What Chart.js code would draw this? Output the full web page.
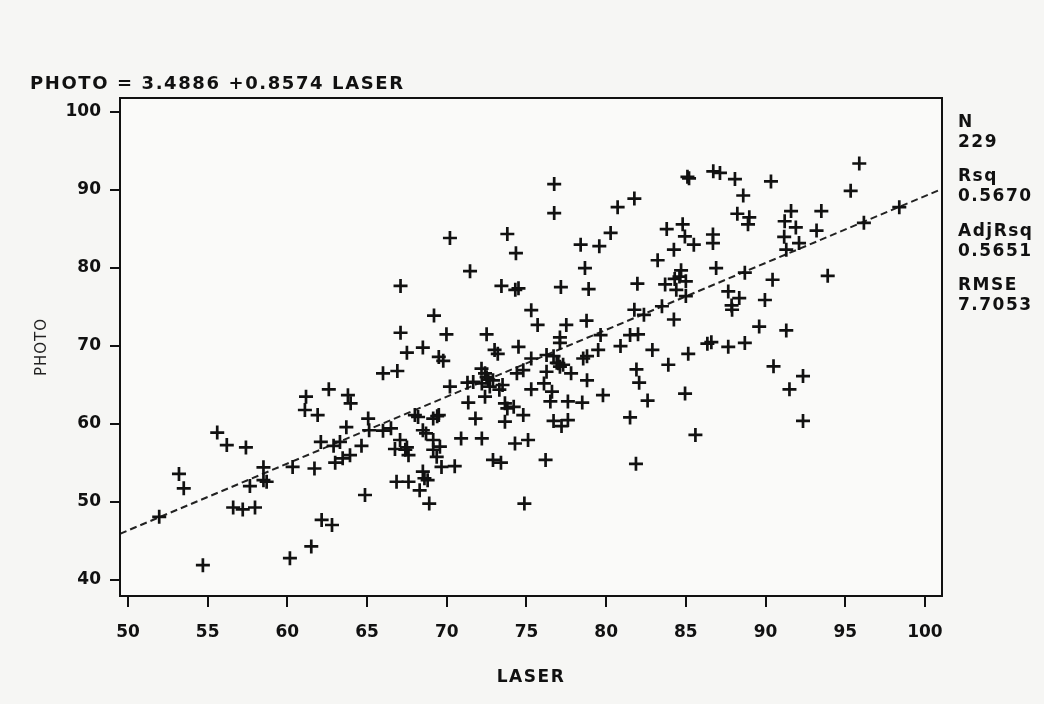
<!DOCTYPE html>
<html>
<head>
<meta charset="utf-8">
<script src="https://cdn.jsdelivr.net/npm/chart.js@4/dist/chart.umd.min.js"></script>
<style>
  html, body { margin: 0; padding: 0; background: #f6f6f4; }
  #wrap { width: 1044px; height: 704px; position: relative; }
  canvas { display: block; }
</style>
</head>
<body>
<div id="wrap"><canvas id="c" width="1044" height="704"></canvas></div>
<script>
// ---- data ----
const laser = [
  76.74,76.74,80.72,81.77,70.2,73.8,74.34,78.4,79.57,80.28,
  83.23,71.46,78.67,67.1,73.43,74.3,74.5,77.16,78.9,81.96,
  69.2,75.3,75.7,77.5,78.77,81.77,82.37,
  67.1,69.98,72.5,77.1,79.65,81.5,82.0,
  95.88,95.34,98.39,96.17,85.1,85.2,86.72,87.14,88.08,90.34,88.6,88.23,88.98,88.9,91.6,93.5,91.2,91.9,93.2,91.17,92.1,91.3,
  83.8,84.8,84.94,85.5,86.7,86.7,84.25,84.7,84.3,83.7,84.4,85.0,85.0,83.5,86.9,88.7,90.44,93.9,87.66,88.35,87.87,87.9,89.96,84.25,89.6,91.3,
  86.35,86.6,87.66,88.7,85.15,83.9,90.5,92.35,91.5,84.95,92.35,85.6,
  66.0,66.9,61.17,62.6,63.8,63.97,61.1,61.9,63.7,65.07,65.13,66.0,66.5,62.1,62.9,63.3,63.0,63.47,63.93,64.65,66.75,
  61.7,60.33,58.5,58.5,57.65,58.7,55.6,56.2,57.4,53.2,53.5,51.96,56.6,57.2,57.97,54.7,60.16,61.5,62.15,62.8,64.87,66.85,
  67.5,68.5,69.5,69.78,73.0,73.2,74.5,75.3,76.26,76.7,77.1,76.9,77.1,77.3,77.8,76.26,78.56,78.8,79.5,80.9,
  82.9,81.9,82.07,82.6,81.5,81.87,78.8,79.8,77.6,78.5,76.5,76.6,76.1,76.7,77.2,77.6,76.2,74.87,75.3,74.8,
  74.28,75.1,73.65,73.8,74.2,73.65,73.3,73.5,72.9,73.4,
  72.18,72.4,72.6,72.2,72.7,72.4,71.66,71.3,72.9,
  70.2,71.35,71.8,70.9,72.2,68.0,68.2,69.15,69.5,68.5,68.7,67.07,67.4,67.6,
  69.15,69.57,69.15,69.37,69.67,70.5,67.6,68.5,68.6,68.8,68.3,68.9,74.4,74.8,
  72.5,69.4,67.5,77.0,84.6
];
const photo = [
  90.77,87.05,87.8,88.9,83.85,84.36,81.9,83.0,82.8,84.5,
  81.0,79.6,80.0,77.7,77.7,77.2,77.4,77.56,77.3,78.0,
  73.9,74.6,72.7,72.7,73.25,74.65,74.0,
  71.7,71.5,71.5,71.1,71.4,71.4,71.5,
  93.4,89.9,87.8,85.8,91.7,91.5,92.4,92.2,91.4,91.1,89.3,86.96,86.5,85.6,87.3,87.3,86.0,85.2,84.8,84.0,83.2,82.35,
  85.0,85.6,84.05,83.0,84.3,83.2,82.35,79.7,78.6,77.9,77.2,78.3,76.4,75.1,80.0,79.4,78.5,79.0,77.0,76.15,75.2,74.65,75.9,73.4,72.5,72.0,
  70.3,70.5,69.9,70.4,69.0,67.6,67.4,66.15,64.45,63.9,60.4,58.6,
  66.5,66.8,63.5,64.45,63.7,62.65,61.8,61.15,59.6,60.7,59.2,59.15,59.45,57.7,57.2,57.7,55.05,55.6,56.0,57.2,56.8,
  54.3,54.5,54.45,52.8,52.05,52.6,58.9,57.3,57.0,53.6,51.75,48.1,49.3,49.05,49.3,41.9,42.8,44.3,47.7,47.05,50.9,52.6,
  69.15,69.8,68.6,68.1,69.5,69.0,69.9,68.4,68.85,68.7,70.4,67.85,67.35,67.6,66.5,66.7,68.4,68.7,69.5,70.0,
  69.5,67.0,65.3,63.0,60.85,54.9,65.6,63.7,62.9,62.75,62.9,64.15,65.2,60.4,59.74,60.5,55.4,49.8,64.45,61.15,
  57.5,57.95,62.65,62.0,62.2,60.3,64.4,65.0,55.4,55.05,
  67.1,66.5,65.7,65.2,64.8,63.5,65.4,65.3,65.6,
  64.8,62.75,60.7,58.15,58.15,61.15,60.9,60.7,61.15,59.2,58.8,57.95,56.7,56.0,
  57.95,57.1,56.7,55.8,54.5,54.6,52.6,53.9,53.05,52.8,51.5,49.8,66.5,66.9,
  66.0,61.0,57.0,67.8,78.9
];
const fitLaser = [49.5, 101.07];
const fitPhoto = [45.93, 90.14];
const xTicks = [50, 55, 60, 65, 70, 75, 80, 85, 90, 95, 100];
const yTicks = [40, 50, 60, 70, 80, 90, 100];
const titleText = 'PHOTO = 3.4886 +0.8574 LASER';
const statLines = ['N', '229', 'Rsq', '0.5670', 'AdjRsq', '0.5651', 'RMSE', '7.7053'];
const xTitle = 'LASER';
const yTitle = 'PHOTO';

// ---- build chart ----
const points = laser.map((x, i) => ({ x: x, y: photo[i] }));
const fitPoints = fitLaser.map((x, i) => ({ x: x, y: fitPhoto[i] }));

const FONT = '"DejaVu Sans", "Liberation Sans", sans-serif';
const INK = '#111';

const decor = {
  id: 'decor',
  beforeDraw(chart) {
    const { ctx, chartArea: a } = chart;
    ctx.save();
    ctx.fillStyle = '#f6f6f4';
    ctx.fillRect(0, 0, chart.width, chart.height);
    ctx.fillStyle = '#fafaf9';
    ctx.fillRect(a.left, a.top, a.right - a.left, a.bottom - a.top);
    ctx.restore();
  },
  afterDraw(chart) {
    const { ctx, chartArea: a } = chart;
    ctx.save();
    ctx.strokeStyle = INK;
    ctx.lineWidth = 2;
    ctx.strokeRect(a.left, a.top, a.right - a.left, a.bottom - a.top);

    ctx.fillStyle = INK;
    ctx.textBaseline = 'middle';
    ctx.textAlign = 'left';
    ctx.font = 'bold 18px ' + FONT;
    try { ctx.letterSpacing = '1.6px'; } catch (e) {}
    ctx.fillText(titleText, 30, 84);

    ctx.font = 'bold 17px ' + FONT;
    try { ctx.letterSpacing = '1.5px'; } catch (e) {}
    const ys = [123, 143, 177, 197, 232, 252, 286, 306];
    statLines.forEach((t, i) => ctx.fillText(t, a.right + 16, ys[i]));

    ctx.textAlign = 'center';
    ctx.fillText(xTitle, (a.left + a.right) / 2, 678);

    try { ctx.letterSpacing = '1px'; } catch (e) {}
    ctx.font = '15px ' + FONT;
    ctx.fillStyle = '#222';
    ctx.translate(42, (a.top + a.bottom) / 2);
    ctx.rotate(-Math.PI / 2);
    ctx.fillText(yTitle, 0, 0);
    ctx.restore();
  }
};

new Chart(document.getElementById('c'), {
  type: 'scatter',
  data: {
    datasets: [
      {
        label: 'PHOTO',
        data: points,
        pointStyle: 'cross',
        pointRadius: 7,
        borderWidth: 2.7,
        borderColor: INK,
        backgroundColor: INK
      },
      {
        type: 'line',
        label: 'fit',
        data: fitPoints,
        borderColor: '#222',
        borderWidth: 2,
        borderDash: [7, 4],
        pointRadius: 0,
        fill: false,
        tension: 0
      }
    ]
  },
  options: {
    responsive: false,
    animation: false,
    devicePixelRatio: 1,
    layout: { padding: { top: 98, right: 102, left: 0, bottom: 0 } },
    plugins: { legend: { display: false }, tooltip: { enabled: false }, title: { display: false } },
    scales: {
      x: {
        type: 'linear',
        min: 49.5,
        max: 101.07,
        afterBuildTicks: s => { s.ticks = xTicks.map(v => ({ value: v })); },
        afterFit: s => { s.height = 108; },
        border: { display: false },
        grid: { display: true, drawOnChartArea: false, drawTicks: true, tickLength: 11, color: INK, lineWidth: 2 },
        ticks: { color: INK, font: { family: FONT, size: 17, weight: 'bold' }, padding: 15, maxRotation: 0 }
      },
      y: {
        type: 'linear',
        min: 37.95,
        max: 101.8,
        afterBuildTicks: s => { s.ticks = yTicks.map(v => ({ value: v })); },
        afterFit: s => { s.width = 120; },
        border: { display: false },
        grid: { display: true, drawOnChartArea: false, drawTicks: true, tickLength: 10, color: INK, lineWidth: 2 },
        ticks: { color: INK, font: { family: FONT, size: 17, weight: 'bold' }, padding: 9 }
      }
    }
  },
  plugins: [decor]
});
</script>
</body>
</html>
